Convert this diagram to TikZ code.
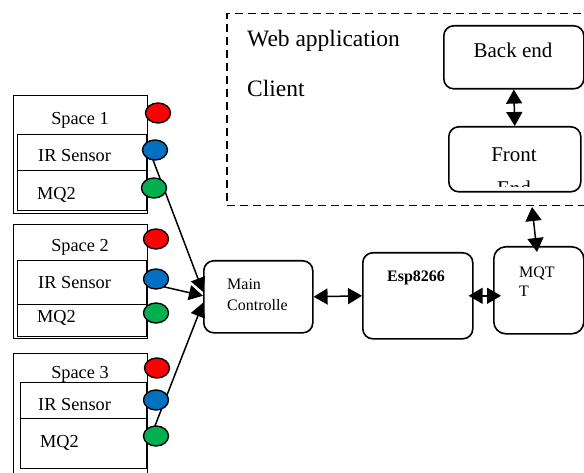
\documentclass[tikz,border=0pt]{standalone}
\usepackage{fontspec}
\setmainfont{Liberation Serif}
\usetikzlibrary{arrows.meta,shapes.geometric,calc}
\definecolor{cred}{RGB}{255,0,0}
\definecolor{cblue}{RGB}{0,112,192}
\definecolor{cgreen}{RGB}{0,176,80}
\begin{document}
\begin{tikzpicture}[x=1pt,y=-1pt,
  rbox/.style={draw,rounded corners=10pt,line width=1.6pt,inner sep=0,anchor=north west},
  sbox/.style={draw,line width=1.4pt,inner sep=0,anchor=north west},
  dot/.style={draw,ellipse,line width=1.4pt,minimum width=25pt,minimum height=20pt,inner sep=0},
  lbl/.style={inner sep=0,anchor=base west},
  clbl/.style={inner sep=0,anchor=base},
  fbig/.style={font=\fontsize{23.5}{26}\selectfont},
  fmid/.style={font=\fontsize{21}{24}\selectfont},
  fsp/.style={font=\fontsize{18.3}{21}\selectfont},
  fsm/.style={font=\fontsize{16}{19}\selectfont},
  tip/.style={-{Triangle[length=14pt,width=15pt]},line width=1.5pt},
  bi/.style={{Triangle[length=14pt,width=16pt]}-{Triangle[length=14pt,width=16pt]},line width=1.5pt},
]
\useasboundingbox (0,0) rectangle (584,473);

% web application dashed box
\node[draw,line width=1.5pt,dash pattern=on 8pt off 5pt,inner sep=0,anchor=north west,minimum width=380pt,minimum height=192pt] (web) at (226,13) {};
\node[lbl,fbig] (wat) at (247,47) {Web application};
\node[lbl,fbig] (clt) at (247,97) {Client};

\node[rbox,minimum width=140pt,minimum height=63pt] (be) at (443,25) {};
\node[clbl,fmid] (bet) at (513,58) {Back end};
\node[rbox,minimum width=132pt,minimum height=65pt] (fe) at (448,126) {};
\node[clbl,fmid] (fet) at (514,162) {Front};
\begin{scope}
\clip (448,126) rectangle (580,187);
\node[clbl,fmid] (fet2) at (514,196) {End};
\end{scope}
\draw[bi] (be.south) -- (fe.north);

% main chain
\node[rbox,minimum width=109pt,minimum height=72pt] (mc) at (203,260) {};
\node[lbl,fsm] (mct1) at (227,290) {Main};
\node[lbl,fsm] (mct2) at (227,310) {Controlle};
\node[rbox,minimum width=110pt,minimum height=86pt] (esp) at (362,252) {};
\node[lbl,fsm,font=\fontsize{16}{19}\selectfont\bfseries] (espt) at (387,282) {Esp8266};
\node[rbox,rounded corners=12pt,minimum width=90pt,minimum height=87pt] (mq) at (493,246) {};
\node[lbl,fsm] (mqt1) at (519,277) {MQT};
\node[lbl,fsm] (mqt2) at (519,297) {T};

\draw[bi] (mc.east) -- (esp.west);
\draw[bi,shorten <=-5pt,shorten >=-8pt] (esp.east) -- (esp.east -| mq.west);
\coordinate (wa) at (532,207);
\coordinate (ma) at (537,252);
\draw[bi] (wa) -- (ma);

% space boxes
\node[sbox,minimum width=134pt,minimum height=118pt] (sp1) at (13,95) {};
\node[sbox,minimum width=129pt,minimum height=36pt] (ir1) at (17,134) {};
\node[sbox,minimum width=129pt,minimum height=40pt] (mq1) at (17,170) {};
\node[clbl,fsp] (sp1t) at (80,125) {Space 1};
\node[lbl,fsp] (ir1t) at (38,162) {IR Sensor};
\node[lbl,fsp] (mq1t) at (37,200) {MQ2};

\node[sbox,minimum width=134pt,minimum height=114pt] (sp2) at (13,224) {};
\node[sbox,minimum width=129pt,minimum height=44pt] (ir2) at (17,260) {};
\node[sbox,minimum width=129pt,minimum height=32pt] (mq2) at (17,304) {};
\node[clbl,fsp] (sp2t) at (80,252) {Space 2};
\node[lbl,fsp] (ir2t) at (38,288) {IR Sensor};
\node[lbl,fsp] (mq2t) at (37,323) {MQ2};

\node[sbox,minimum width=134pt,minimum height=140pt] (sp3) at (13,353) {};
\node[sbox,minimum width=126pt,minimum height=36pt] (ir3) at (20,382) {};
\node[sbox,minimum width=126pt,minimum height=50pt] (mq3) at (20,418) {};
\node[clbl,fsp] (sp3t) at (80,378) {Space 3};
\node[lbl,fsp] (ir3t) at (38,410) {IR Sensor};
\node[lbl,fsp] (mq3t) at (40,447) {MQ2};

% connectors into main controller
\coordinate (s1) at (150,152);
\coordinate (s2) at (156,285);
\coordinate (s3) at (151,436);
\draw[tip] (s1) -- ($(mc.west)+(0,-5)$);
\draw[tip] (s2) -- ($(mc.west)+(0,-1)$);
\draw[tip] (s3) -- ($(mc.west)+(0,6)$);

% sensor dots
\node[dot,fill=cred] (r1) at (158,113) {};
\node[dot,fill=cblue] (b1) at (155,150) {};
\node[dot,fill=cgreen] (g1) at (154,188) {};
\node[dot,fill=cred] (r2) at (156,239) {};
\node[dot,fill=cblue] (b2) at (156,279) {};
\node[dot,fill=cgreen] (g2) at (156,313) {};
\node[dot,fill=cred] (r3) at (157,368) {};
\node[dot,fill=cblue] (b3) at (156,400) {};
\node[dot,fill=cgreen] (g3) at (156,436) {};
\end{tikzpicture}
\end{document}
